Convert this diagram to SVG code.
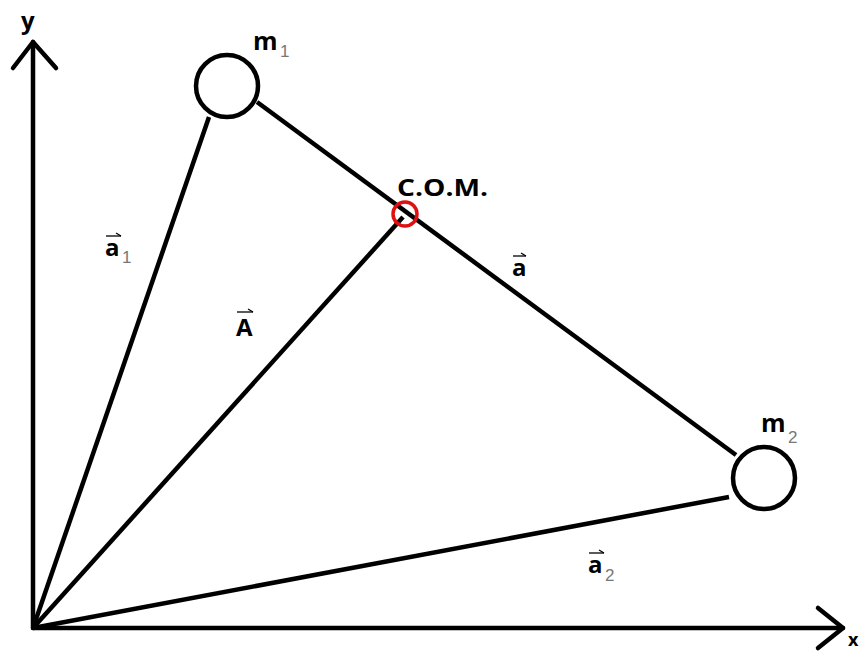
<svg xmlns="http://www.w3.org/2000/svg" width="863" height="655" viewBox="0 0 863 655">
<style>
.ln{stroke:#000;stroke-width:4.5;fill:none;stroke-linecap:butt}
.ax{stroke:#000;stroke-width:4.5;fill:none;stroke-linecap:round;stroke-linejoin:round}
.ms{stroke:#000;stroke-width:4.5;fill:#fff}
.lb{font-family:"Open Sans","Liberation Sans",sans-serif;font-weight:bold;font-size:24px;fill:#000}
.sb{font-family:"Liberation Sans",sans-serif;font-size:17px;fill:#777}
.vec{stroke:#000;stroke-width:1.3;fill:none}
</style>
<rect width="863" height="655" fill="#fff"/>
<g id="connectors">
<line class="ln" x1="33" y1="628" x2="209" y2="117"/>
<line class="ln" x1="33" y1="628" x2="403" y2="217"/>
<line class="ln" x1="33" y1="628" x2="729" y2="497"/>
<line class="ln" x1="257" y1="102" x2="736" y2="455"/>
</g>
<g id="axes">
<polyline class="ax" points="33,628 33,42"/>
<polyline class="ax" points="13,68 33,42 56,68"/>
<polyline class="ax" points="33,628 843,628"/>
<polyline class="ax" points="818,608 843,628 818,648"/>
<text class="lb" x="21" y="29" font-size="22">y</text>
<text class="lb" x="848" y="646" style="font-size:18px">x</text>
</g>
<g id="m1">
<circle class="ms" cx="227" cy="86" r="31"/>
<text class="lb" x="253" y="50" style="font-size:25px">m</text>
<text class="sb" x="280" y="57">1</text>
</g>
<g id="m2">
<circle class="ms" cx="764" cy="478" r="31"/>
<text class="lb" x="761" y="432" style="font-size:25px">m</text>
<text class="sb" x="788" y="443">2</text>
</g>
<g id="com">
<circle cx="405" cy="214" r="12" fill="none" stroke="#e01010" stroke-width="3.5"/>
<text class="lb" x="397" y="196" textLength="91" lengthAdjust="spacingAndGlyphs">C.O.M.</text>
</g>
<g id="label-a1">
<text class="lb" x="105" y="256">a</text>
<text class="sb" x="122" y="263">1</text>
<line class="vec" x1="106" y1="236" x2="121" y2="236"/>
<line class="vec" x1="121" y1="236" x2="116" y2="233"/>
</g>
<g id="label-A">
<text class="lb" x="236" y="336">A</text>
<line class="vec" x1="237" y1="312" x2="253" y2="312"/>
<line class="vec" x1="253" y1="312" x2="248" y2="309"/>
</g>
<g id="label-a">
<text class="lb" x="512" y="276">a</text>
<line class="vec" x1="513" y1="256" x2="526" y2="256"/>
<line class="vec" x1="526" y1="256" x2="521" y2="253"/>
</g>
<g id="label-a2">
<text class="lb" x="588" y="573">a</text>
<text class="sb" x="605" y="581">2</text>
<line class="vec" x1="589" y1="553" x2="604" y2="553"/>
<line class="vec" x1="604" y1="553" x2="599" y2="550"/>
</g>
</svg>
